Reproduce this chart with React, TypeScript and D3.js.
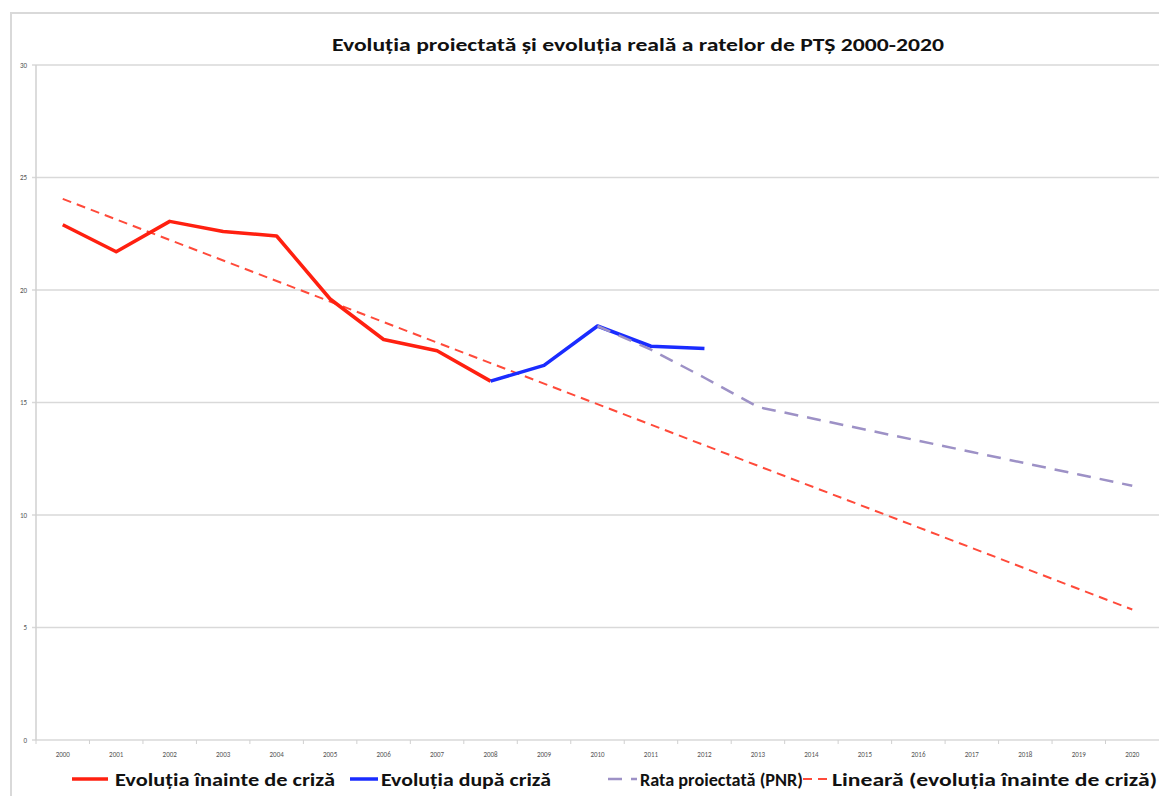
import React from "react";
import * as d3 from "d3";

const years = d3.range(2000, 2021).map(String);
const yTicks = [0, 5, 10, 15, 20, 25, 30];

const beforeYears = ["2000", "2001", "2002", "2003", "2004", "2005", "2006", "2007", "2008"];
const beforeValues = [22.9, 21.7, 23.05, 22.6, 22.4, 19.6, 17.8, 17.3, 15.95];

const afterYears = ["2008", "2009", "2010", "2011", "2012"];
const afterValues = [15.95, 16.65, 18.4, 17.5, 17.4];

const projYears = ["2010", "2011", "2012", "2013", "2014", "2015", "2016", "2017", "2018", "2019", "2020"];
const projValues = [18.4, 17.35, 16.1, 14.8, 14.3, 13.8, 13.3, 12.8, 12.3, 11.8, 11.3];

const trendYears = ["2000", "2020"];
const trendValues = [24.05, 5.8];

const W = 1159;
const H = 796;
const left = 36;
const right = 1159;
const top = 65;
const bottom = 740;

export default function App() {
  const x = d3.scaleBand<string>().domain(years).range([left, right]).paddingInner(0).paddingOuter(0);
  const y = d3.scaleLinear().domain([0, 30]).range([bottom, top]);
  const cx = (yr: string) => (x(yr) as number) + x.bandwidth() / 2;
  const line = d3
    .line<[string, number]>()
    .x((d) => cx(d[0]))
    .y((d) => y(d[1]));
  const zip = (a: string[], b: number[]) => a.map((k, i) => [k, b[i]] as [string, number]);

  const font = "Calibri, Carlito, 'Liberation Sans', Arial, sans-serif";
  return (
    <svg width={W} height={H} style={{ position: "absolute", left: 0, top: 0, background: "#fff" }}>
      <rect x={11} y={13} width={W} height={H} fill="#fff" stroke="#d9d9d9" strokeWidth={2} />
      <text
        x={638}
        y={51}
        textAnchor="middle"
        fontFamily={font}
        fontWeight="bold"
        fontSize={18}
        fill="#111"
        textLength={612}
        lengthAdjust="spacingAndGlyphs"
      >
        Evoluția proiectată și evoluția reală a ratelor de PTȘ 2000-2020
      </text>
      {yTicks.map((t) => (
        <g key={t}>
          <line x1={left - 4} x2={right} y1={y(t)} y2={y(t)} stroke="#d9d9d9" strokeWidth={1.5} />
          <text x={27} y={y(t) + 2.5} textAnchor="end" fontSize={7} fontFamily={font} fill="#555">
            {t}
          </text>
        </g>
      ))}
      <line x1={left} x2={left} y1={top} y2={bottom} stroke="#d0d0d0" strokeWidth={1.5} />
      {years.map((yr) => (
        <g key={yr}>
          <line x1={x(yr) as number} x2={x(yr) as number} y1={bottom} y2={bottom + 4} stroke="#d0d0d0" strokeWidth={1} />
          <text x={cx(yr)} y={757} textAnchor="middle" fontSize={7} fontFamily={font} fill="#555">
            {yr}
          </text>
        </g>
      ))}
      <path d={line(zip(trendYears, trendValues)) || ""} fill="none" stroke="#ff4a3a" strokeWidth={2} strokeDasharray="9,6" />
      <path d={line(zip(beforeYears, beforeValues)) || ""} fill="none" stroke="#ff2010" strokeWidth={3.5} strokeLinejoin="round" />
      <path d={line(zip(afterYears, afterValues)) || ""} fill="none" stroke="#1a2cff" strokeWidth={3.5} strokeLinejoin="round" />
      <path d={line(zip(projYears, projValues)) || ""} fill="none" stroke="#9d91c6" strokeWidth={2.5} strokeDasharray="14,9" />

      <g fontFamily={font} fontWeight="bold" fontSize={18} fill="#111">
        <line x1={72} x2={108} y1={779} y2={779} stroke="#ff2010" strokeWidth={3.5} />
        <text x={115} y={786} textLength={220} lengthAdjust="spacingAndGlyphs">Evoluția înainte de criză</text>
        <line x1={350} x2={378} y1={779} y2={779} stroke="#1a2cff" strokeWidth={3.5} />
        <text x={381} y={786} textLength={170} lengthAdjust="spacingAndGlyphs">Evoluția după criză</text>
        <line x1={608} x2={637} y1={779} y2={779} stroke="#9d91c6" strokeWidth={2.5} strokeDasharray="14,9" />
        <text x={640} y={786} textLength={163} lengthAdjust="spacingAndGlyphs">Rata proiectată (PNR)</text>
        <line x1={803} x2={832} y1={779} y2={779} stroke="#ff4a3a" strokeWidth={2} strokeDasharray="9,6" />
        <text x={832} y={786} textLength={325} lengthAdjust="spacingAndGlyphs">Lineară (evoluția înainte de criză)</text>
      </g>
    </svg>
  );
}
